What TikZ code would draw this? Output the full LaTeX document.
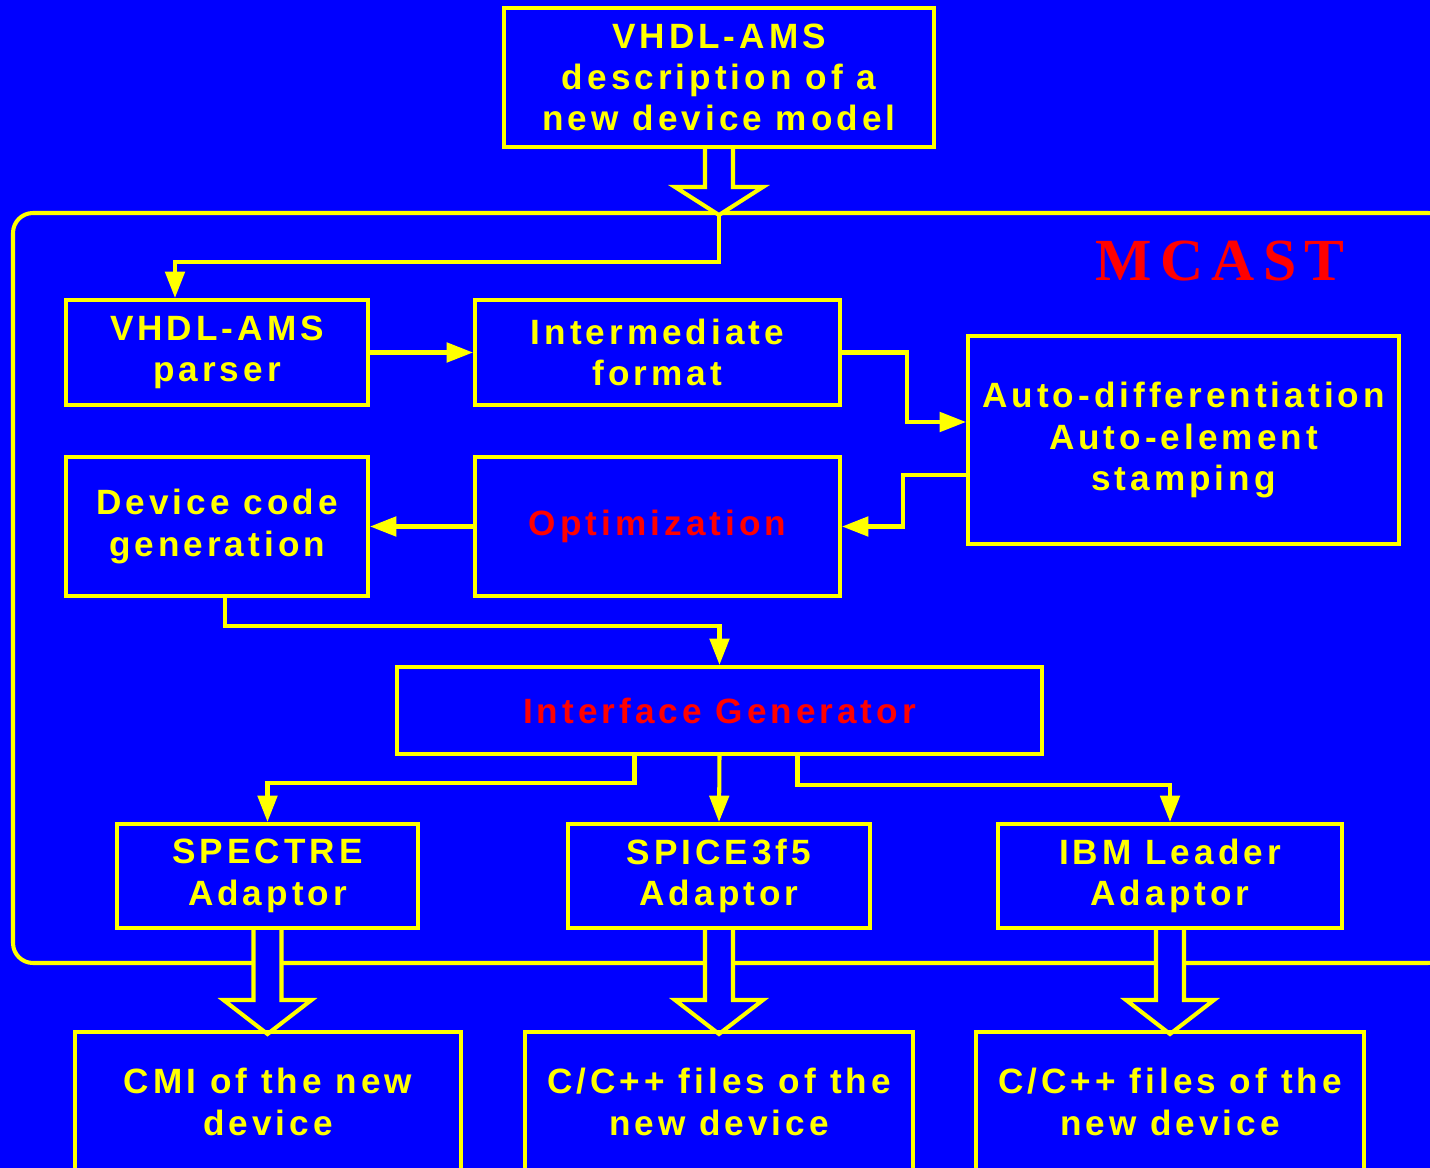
\documentclass[tikz,border=0pt]{standalone}
\usepackage{fontspec}
\usepackage{tikz}
\usetikzlibrary{arrows.meta,calc}
\newfontfamily\boxfont{Liberation Sans}[LetterSpace=11.5]
\newfontfamily\mcastfont{Liberation Serif}[LetterSpace=14]
\definecolor{bgblue}{RGB}{0,0,255}
\definecolor{lineyellow}{RGB}{255,255,0}
\definecolor{textred}{RGB}{255,0,0}
\pgfdeclarelayer{background}
\pgfsetlayers{background,main}

\begin{document}
\begin{tikzpicture}[x=0.02cm,y=-0.02cm]
	\tikzstyle{box}=[draw=lineyellow,line width=2.3pt,text=lineyellow,align=center,inner sep=0pt,font=\boxfont\bfseries\fontsize{20}{23.5}\selectfont]
	\tikzstyle{arr}=[draw=lineyellow,line width=2.3pt,-{Triangle[length=15pt,width=11pt]}]
	\tikzstyle{fat}=[draw=lineyellow,fill=bgblue,line width=2.3pt]
	\useasboundingbox (0,0) rectangle (1430,1168);
	\clip (0,0) rectangle (1430,1168);
	% boxes
	\node[box,minimum width=8.6cm,minimum height=2.78cm] (top) at (719,77.5) {VHDL-AMS\\description of a\\new device model};
	\node[box,minimum width=6.04cm,minimum height=2.1cm] (parser) at (217,352.5) {VHDL-AMS\\parser};
	\node[box,minimum width=7.3cm,minimum height=2.1cm] (inter) at (657.5,352.5) {Intermediate\\format};
	\node[box,minimum width=8.62cm,minimum height=4.16cm] (auto) at (1183.5,440) {Auto-differentiation\\Auto-element\\stamping};
	\node[box,minimum width=6.04cm,minimum height=2.78cm] (devgen) at (217,526.5) {Device code\\generation};
	\node[box,minimum width=7.3cm,minimum height=2.78cm,text=textred] (optim) at (657.5,526.5) {Optimization};
	\node[box,minimum width=12.9cm,minimum height=1.74cm,text=textred] (iface) at (719.5,710.5) {Interface Generator};
	\node[box,minimum width=6.02cm,minimum height=2.08cm] (spectre) at (267.5,876) {SPECTRE\\Adaptor};
	\node[box,minimum width=6.04cm,minimum height=2.08cm] (spice) at (719,876) {SPICE3f5\\Adaptor};
	\node[box,minimum width=6.88cm,minimum height=2.08cm] (ibm) at (1170,876) {IBM Leader\\Adaptor};
	\node[box,minimum width=7.72cm,minimum height=2.8cm] (cmi) at (268,1102) {CMI of the new\\device};
	\node[box,minimum width=7.76cm,minimum height=2.8cm] (cfiles) at (719,1102) {C/C++ files of the\\new device};
	\node[box,minimum width=7.76cm,minimum height=2.8cm] (cfilesb) at (1170,1102) {C/C++ files of the\\new device};
	\node[text=textred,font=\mcastfont\bfseries\fontsize{34}{40}\selectfont] (mcast) at (1220,261) {MCAST};
	\coordinate (tipA) at ($(top.south)+(0,66)$);
	% connectors
	\draw[arr] (tipA) -- ++(0,47) -| ($(parser.north)+(-42,0)$);
	\draw[arr] (parser.east) -- (inter.west);
	\draw[arr] (inter.east) -- ++(65,0) |- ($(auto.west)+(0,-18)$);
	\draw[arr] ($(auto.west)+(0,35)$) -- ++(-63,0) |- (optim.east);
	\draw[arr] (optim.west) -- (devgen.east);
	\draw[arr] ($(devgen.south)+(8,0)$) -- ++(0,28) -| (iface.north);
	\draw[arr] ($(iface.south)+(-85,0)$) -- ++(0,27) -| (spectre.north);
	\draw[arr] (iface.south) -- (spice.north);
	\draw[arr] ($(iface.south)+(78,0)$) -- ++(0,29) -| (ibm.north);
	\begin{pgfonlayer}{background}
		\fill[bgblue] (0,0) rectangle (1430,1168);
		\draw[draw=lineyellow,line width=2.3pt,rounded corners=0.4cm] (13,213) rectangle (1448,963);
		\filldraw[fat] (top.south) ++(-14,0) -- ++(0,38) -- ++(-30,0) -- (tipA) -- ++(44,-28) -- ++(-30,0) -- ++(0,-38);
		\foreach \n in {spectre,spice,ibm}{
			\filldraw[fat] (\n.south) ++(-14,0) -- ++(0,70) -- ++(-30,0) -- ++(44,34) -- ++(44,-34) -- ++(-30,0) -- ++(0,-70);
		}
	\end{pgfonlayer}
\end{tikzpicture}
\end{document}
